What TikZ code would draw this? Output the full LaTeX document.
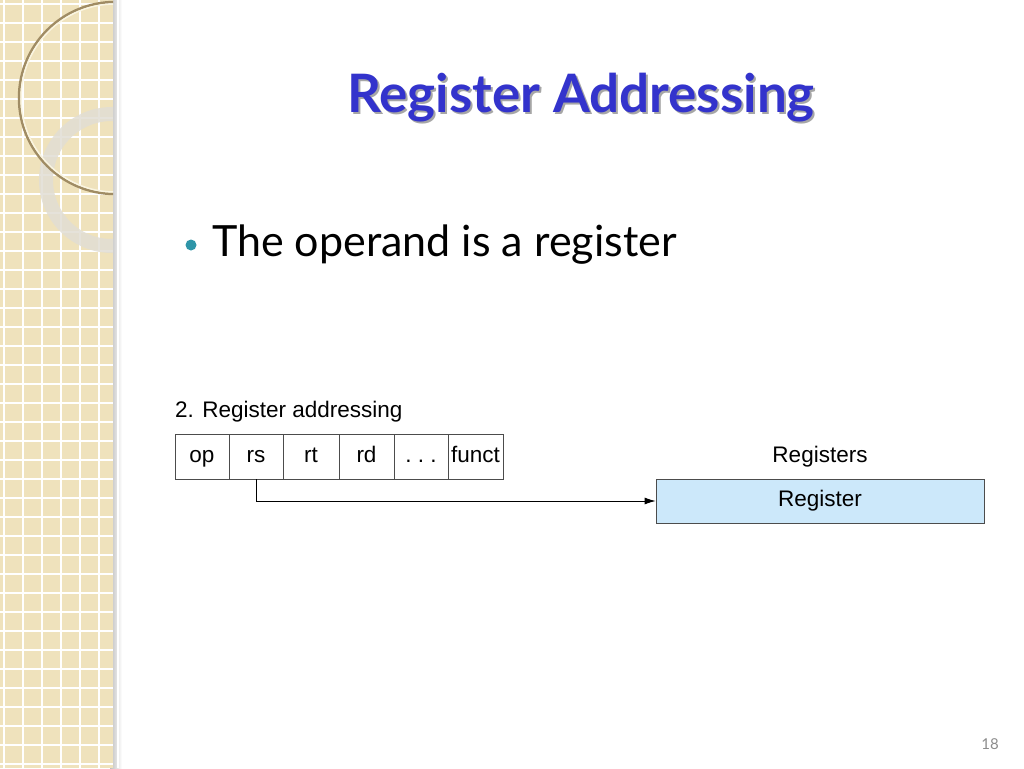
\documentclass[tikz,border=0pt]{standalone}
\usetikzlibrary{arrows.meta}
\usepackage{fontspec}
\setmainfont{Lato}
\newfontfamily\arialf{Liberation Sans}
\begin{document}
\begin{tikzpicture}[x=1pt,y=-1pt,
  cell/.style={draw=black!70,line width=0.8pt,minimum width=54pt,minimum height=45pt,inner sep=0pt,text height=16pt,text depth=5pt,font=\arialf\fontsize{22.5}{22.5}\selectfont},
  lbl/.style={font=\arialf\fontsize{22.5}{22.5}\selectfont,inner sep=0pt}]
\useasboundingbox (0,0) rectangle (1024,768);
\fill[white] (0,0) rectangle (1024,768);
% left strip
\fill[left color=black!25,right color=white] (110,0) rectangle (122,768);
\fill[color={rgb,255:red,239;green,226;blue,188}] (0,0) rectangle (113,768);
\foreach \i in {0,...,40} {\draw[white,line width=1.3pt] (\i*19+4,0) -- (\i*19+4,768);
  \draw[white,line width=1.3pt] (0,\i*19+4) -- (113,\i*19+4);}
\begin{scope}
\clip (0,0) rectangle (113,768);
\draw[color={rgb,255:red,225;green,222;blue,212},opacity=0.85,line width=14pt] (112,180) circle (66);
\draw[color={rgb,255:red,160;green,140;blue,100},line width=2.5pt] (115,98) circle (96);
\draw[color={rgb,255:red,250;green,245;blue,225},line width=1.5pt] (115,98) circle (94);
\end{scope}
% title
\node (title) at (583,100) {\fontsize{53}{53}\selectfont\bfseries\color{black!35}Register Addressing};
\node (title2) at (581,98) {\fontsize{53}{53}\selectfont\bfseries\color{rgb,255:red,51;green,51;blue,204}Register Addressing};
\fill[color={rgb,255:red,46;green,149;blue,168}] (191,245) circle (5.5);
\node[anchor=west,inner sep=0pt] (bul) at (212,245) {\fontsize{43}{43}\selectfont The operand is a register};
% diagram
\node[lbl,anchor=west] (cap) at (175,412) {2. Register addressing};
\node[cell,minimum width=54pt] (op) at (202,456.5) {op};
\node[cell,minimum width=54pt] (rs) at (256,456.5) {rs};
\node[cell,minimum width=56pt] (rt) at (311,456.5) {rt};
\node[cell,minimum width=55pt] (rd) at (366.5,456.5) {rd};
\node[cell,minimum width=54pt] (dots) at (421,456.5) {.\ .\ .};
\node[cell,minimum width=55pt] (funct) at (475.5,456.5) {funct};
\node[lbl] (regs) at (820,457) {Registers};
\node[draw=black!70,line width=0.8pt,fill={rgb,255:red,204;green,232;blue,250},minimum width=328pt,minimum height=44pt,inner sep=0pt,font=\arialf\fontsize{22.5}{22.5}\selectfont] (reg) at (820,501) {Register};
\draw[line width=0.8pt,-{Latex[length=11pt,width=7pt]}] (rs.south) |- (reg.west);
\node[font=\fontsize{15}{15}\selectfont,text=black!45] (pg) at (990,744) {18};
\end{tikzpicture}
\end{document}
